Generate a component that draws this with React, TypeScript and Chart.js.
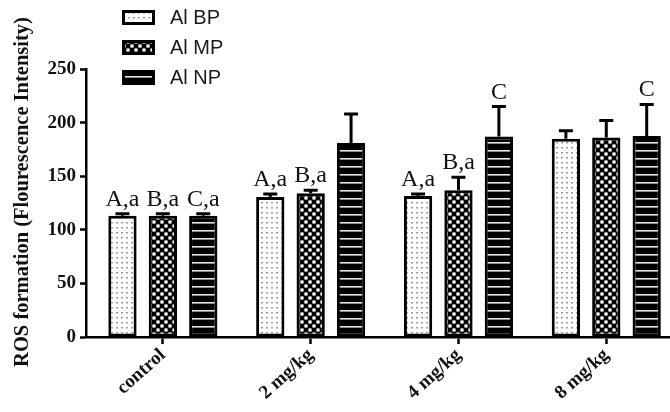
import React, { useEffect, useRef } from "react";
import { Chart, registerables } from "chart.js";

Chart.register(...registerables);

// Dose groups and the three aluminium forms
const categories = ["control", "2 mg/kg", "4 mg/kg", "8 mg/kg"];
const seriesNames = ["Al BP", "Al MP", "Al NP"];

// Mean ROS formation (fluorescence intensity)
const bpMeans = [113, 130.5, 131.5, 185];
const mpMeans = [113, 134, 137, 186];
const npMeans = [113, 181, 187, 187.5];

// Upper error (SD) per group
const bpErrors = [2, 3, 2, 7.5];
const mpErrors = [2, 3, 12, 16];
const npErrors = [2, 27, 28, 29.5];

// Significance letters above each bar
const bpLetters = ["A,a", "A,a", "A,a", ""];
const mpLetters = ["B,a", "B,a", "B,a", ""];
const npLetters = ["C,a", "", "C", "C"];

const yMin = 0;
const yMax = 250;
const yStep = 50;
const yTitle = "ROS formation (Flourescence Intensity)";

const SERIF = '"Liberation Serif", "Times New Roman", serif';
const SANS = '"Liberation Sans", Arial, sans-serif';
const INK = "#111";

function makePatterns(ctx: CanvasRenderingContext2D) {
  // fine grey dots on white
  const dots = document.createElement("canvas");
  dots.width = 5;
  dots.height = 5;
  const d = dots.getContext("2d")!;
  d.fillStyle = "#fff";
  d.fillRect(0, 0, 5, 5);
  d.fillStyle = "#9c9c9c";
  d.fillRect(1, 2, 2, 1.5);

  // black / white checkerboard
  const checks = document.createElement("canvas");
  checks.width = 8;
  checks.height = 8;
  const c = checks.getContext("2d")!;
  c.fillStyle = "#000";
  c.fillRect(0, 0, 8, 8);
  c.fillStyle = "#fff";
  c.fillRect(4.4, 0.4, 3.2, 3.2);
  c.fillRect(0.4, 4.4, 3.2, 3.2);

  // black with thin light horizontal stripes
  const stripes = document.createElement("canvas");
  stripes.width = 8;
  stripes.height = 8;
  const s = stripes.getContext("2d")!;
  s.fillStyle = "#000";
  s.fillRect(0, 0, 8, 8);
  s.fillStyle = "#e6e6e6";
  s.fillRect(0, 6, 8, 1.6);

  return [
    ctx.createPattern(dots, "repeat")!,
    ctx.createPattern(checks, "repeat")!,
    ctx.createPattern(stripes, "repeat")!,
  ];
}

const means = [bpMeans, mpMeans, npMeans];
const errors = [bpErrors, mpErrors, npErrors];
const letters = [bpLetters, mpLetters, npLetters];

const errorBarPlugin = {
  id: "errorBars",
  afterDatasetsDraw(chart: any) {
    const ctx = chart.ctx as CanvasRenderingContext2D;
    const yScale = chart.scales.y;
    ctx.save();
    ctx.strokeStyle = "#000";
    ctx.lineWidth = 3;
    chart.data.datasets.forEach((_ds: any, i: number) => {
      const meta = chart.getDatasetMeta(i);
      meta.data.forEach((el: any, j: number) => {
        const top = yScale.getPixelForValue(means[i][j] + errors[i][j]);
        ctx.beginPath();
        ctx.moveTo(el.x, el.y);
        ctx.lineTo(el.x, top);
        ctx.moveTo(el.x - 7, top);
        ctx.lineTo(el.x + 7, top);
        ctx.stroke();
        const txt = letters[i][j];
        if (txt) {
          ctx.fillStyle = INK;
          ctx.font = `24px ${SERIF}`;
          ctx.textAlign = "center";
          ctx.textBaseline = "alphabetic";
          ctx.fillText(txt, el.x, top - 8);
        }
      });
    });
    ctx.restore();
  },
};

const legendPlugin = {
  id: "boxLegend",
  afterDraw(chart: any) {
    const ctx = chart.ctx as CanvasRenderingContext2D;
    chart.data.datasets.forEach((ds: any, i: number) => {
      const x = 122;
      const y = 10 + i * 30;
      const w = 33;
      const h = 15;
      ctx.save();
      ctx.translate(x, y);
      ctx.fillStyle = ds.backgroundColor;
      ctx.fillRect(0, 0, w, h);
      ctx.lineWidth = 3;
      ctx.strokeStyle = "#000";
      ctx.strokeRect(1.5, 1.5, w - 3, h - 3);
      ctx.restore();
      ctx.save();
      ctx.fillStyle = "#1a1a1a";
      ctx.font = `20px ${SANS}`;
      ctx.textAlign = "left";
      ctx.textBaseline = "middle";
      ctx.fillText(ds.label, 170, y + h / 2 + 1);
      ctx.restore();
    });
  },
};

const yTitlePlugin = {
  id: "yTitle",
  afterDraw(chart: any) {
    const ctx = chart.ctx as CanvasRenderingContext2D;
    ctx.save();
    ctx.translate(23, 192);
    ctx.rotate(-Math.PI / 2);
    ctx.font = `bold 20.5px ${SERIF}`;
    ctx.fillStyle = INK;
    ctx.textAlign = "center";
    ctx.textBaseline = "middle";
    ctx.fillText(yTitle, 0, 0);
    ctx.restore();
  },
};

export default function App() {
  const canvasRef = useRef<HTMLCanvasElement | null>(null);

  useEffect(() => {
    const canvas = canvasRef.current;
    if (!canvas) return;
    const ctx = canvas.getContext("2d")!;
    const patterns = makePatterns(ctx);

    const chart = new Chart(canvas, {
      type: "bar",
      data: {
        datasets: seriesNames.map((name, i) => ({
          label: name,
          data: means[i].map((v, j) => ({ x: j, y: v })),
          backgroundColor: patterns[i] as any,
          borderColor: "#000",
          borderWidth: 3,
          borderSkipped: false,
        })),
      },
      options: {
        animation: false,
        responsive: false,
        devicePixelRatio: 1,
        layout: { padding: { top: 69, left: 0, right: 0, bottom: 0 } },
        plugins: {
          legend: { display: false },
          tooltip: { enabled: false },
        },
        datasets: {
          bar: { categoryPercentage: 0.82, barPercentage: 0.7 },
        },
        scales: {
          x: {
            type: "linear",
            min: -0.52,
            max: 3.431,
            offset: false,
            grid: {
              offset: false,
              drawOnChartArea: false,
              tickLength: 7,
              tickWidth: 2.5,
              tickColor: "#000",
            },
            border: { display: true, color: "#000", width: 2.5 },
            ticks: {
              autoSkip: false,
              minRotation: 42,
              maxRotation: 42,
              padding: 0,
              color: INK,
              font: { family: SERIF, weight: "bold", size: 19 },
              callback: (v: any) => categories[Math.round(Number(v))] ?? "",
            },
            afterBuildTicks: (scale: any) => {
              scale.ticks = categories.map((_c, i) => ({ value: i }));
            },
            afterFit: (scale: any) => {
              scale.height = 75;
            },
          } as any,
          y: {
            min: yMin,
            max: yMax,
            grid: {
              drawOnChartArea: false,
              tickLength: 6,
              tickWidth: 2.5,
              tickColor: "#000",
            },
            border: { display: true, color: "#000", width: 2.5 },
            ticks: {
              stepSize: yStep,
              padding: 4,
              color: INK,
              font: { family: SERIF, weight: "bold", size: 19 },
            },
            afterFit: (scale: any) => {
              scale.width = 86;
            },
          } as any,
        },
      },
      plugins: [errorBarPlugin, legendPlugin, yTitlePlugin],
    });

    return () => chart.destroy();
  }, []);

  return (
    <div
      style={{
        position: "fixed",
        left: 0,
        top: 0,
        width: 670,
        height: 412,
        overflow: "hidden",
        background: "#fff",
      }}
    >
      <canvas ref={canvasRef} width={670} height={412} style={{ width: 670, height: 412 }} />
    </div>
  );
}
